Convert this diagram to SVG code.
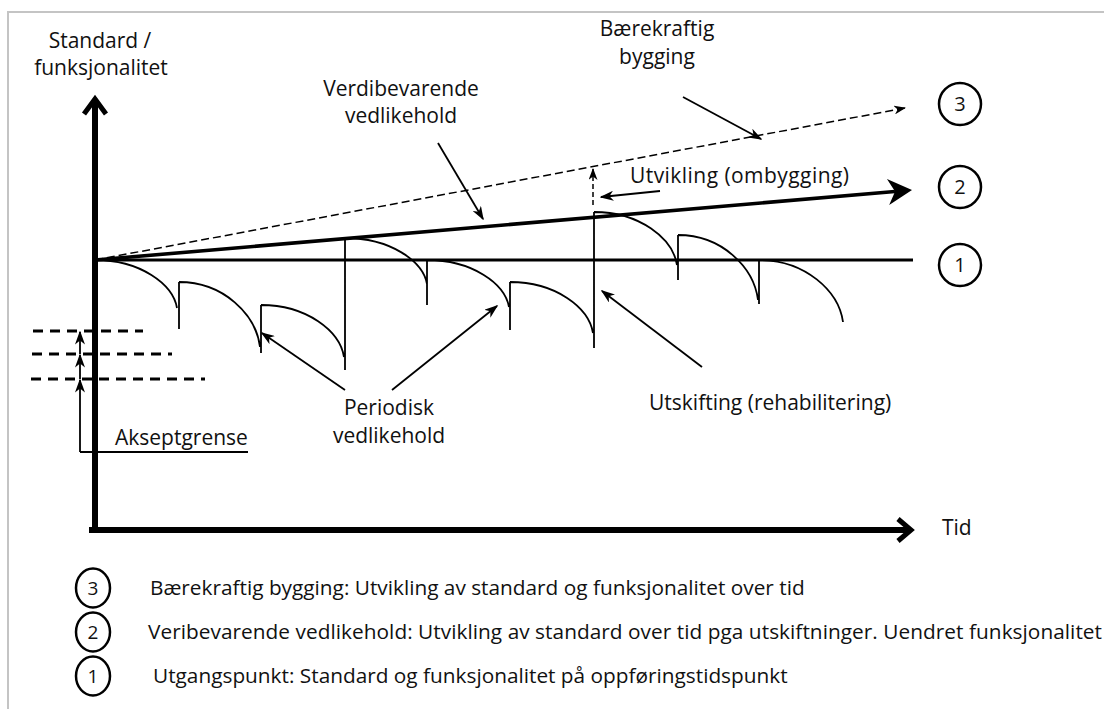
<svg xmlns="http://www.w3.org/2000/svg" width="1104" height="709" viewBox="0 0 1104 709">
<defs>
<style>
text{font-family:"Open Sans","Noto Sans","Liberation Sans",sans-serif;fill:#111;}
.lbl{font-size:21px;}
.mid{text-anchor:middle;}
.leg{font-size:20.8px;}
.num{font-size:20px;text-anchor:middle;}
.numS{font-size:19px;text-anchor:middle;}
.ln{fill:none;stroke:#000;}
.thin{fill:none;stroke:#000;stroke-width:1.8;}
.ptr{fill:none;stroke:#000;stroke-width:1.8;marker-end:url(#stealth);}
.ring{fill:none;stroke:#000;stroke-width:2.5;}
.acc{fill:none;stroke:#000;stroke-width:3;stroke-dasharray:10 7;}
</style>
<marker id="stealth" markerUnits="userSpaceOnUse" viewBox="0 0 14 10" refX="12.5" refY="5" markerWidth="14" markerHeight="10" orient="auto">
<path d="M0,0 L14,5 L0,10 L4,5 z" fill="#000"/>
</marker>
<marker id="stealthS" markerUnits="userSpaceOnUse" viewBox="0 0 12 9" refX="11" refY="4.5" markerWidth="12" markerHeight="9" orient="auto">
<path d="M0,0 L12,4.5 L0,9 L3.5,4.5 z" fill="#000"/>
</marker>
</defs>
<rect width="1104" height="709" fill="#fff"/>
<path d="M8,709 V12 H1104" fill="none" stroke="#c4c4c4" stroke-width="2"/>

<g id="axes">
<path class="ln" d="M95,533 V100" stroke-width="6"/>
<path class="ln" d="M84,114 L95,99 L106,114" stroke-width="5"/>
<path class="ln" d="M89,530 H909" stroke-width="6"/>
<path class="ln" d="M898,519 L911,530 L898,541" stroke-width="5"/>
<text class="lbl mid" x="100" y="48">Standard /</text>
<text class="lbl mid" x="101" y="75">funksjonalitet</text>
<text class="lbl" x="942" y="535">Tid</text>
</g>

<g id="connectors">
<line id="line1" class="ln" x1="95" y1="260" x2="913" y2="260" stroke-width="3"/>
<path id="line2" class="ln" d="M95,260 L895,191.5" stroke-width="3.6"/>
<path d="M0,0 L-24,-13 L-17,0 L-24,13 z" fill="#000" transform="translate(912,190) rotate(-4.9)"/>
<path id="line3" class="ln" d="M95,260 L905,108" stroke-width="1.5" stroke-dasharray="8 4" marker-end="url(#stealthS)"/>
<path class="ln" d="M593,205 V169" stroke-width="1.5" stroke-dasharray="5 3" marker-end="url(#stealthS)"/>
<path id="sawtooth" class="thin" d="M95,260 C140.1,260 172.9,284 177,308 M179,282 V329 M179,282 C223.6,282 256,314.5 260,347 M261,305 V353 M261,305 C306.7,305 339.9,331 344,357 M345,238 V370 M345,238 C390.1,238 422.9,261 427,284 M427,260 V305 M427,260 C472.1,260 504.9,283.5 509,307 M510,282 V330 M510,282 C555.7,282 588.9,307.5 593,333 M594,212 V348 M594,212 C639.7,212 672.9,238.5 677,265 M678,235 V280 M678,235 C722,235 754,267.5 758,300 M759,259 V304 M759,260 C805.2,260 838.8,291 843,322"/>
<path class="ptr" d="M683,97 L761,139"/>
<path class="ptr" d="M438,143 L483,219"/>
<path class="ptr" d="M660,191 L601,197"/>
<path class="ptr" d="M345,390 L262,333"/>
<path class="ptr" d="M392,390 L497,306"/>
<path class="ptr" d="M702,367 L602,291"/>
</g>

<g id="acceptance">
<line class="acc" x1="33" y1="331" x2="143" y2="331"/>
<line class="acc" x1="32" y1="354" x2="172" y2="354"/>
<line class="acc" x1="31" y1="379" x2="205" y2="379"/>
<path class="thin" d="M80,452 H248"/>
<path class="thin" d="M80,452 V380" marker-end="url(#stealth)"/>
<path class="thin" d="M80,379 V355" marker-end="url(#stealth)"/>
<path class="thin" d="M80,354 V332" marker-end="url(#stealth)"/>
<text class="lbl" x="115" y="445">Akseptgrense</text>
</g>

<g id="labels">
<text class="lbl mid" x="401" y="96">Verdibevarende</text>
<text class="lbl mid" x="401" y="123">vedlikehold</text>
<text class="lbl mid" x="657" y="36">Bærekraftig</text>
<text class="lbl mid" x="657" y="64">bygging</text>
<text class="lbl" x="630" y="183" textLength="219">Utvikling (ombygging)</text>
<text class="lbl mid" x="389" y="415">Periodisk</text>
<text class="lbl mid" x="389" y="443">vedlikehold</text>
<text class="lbl" x="649" y="410">Utskifting (rehabilitering)</text>
</g>

<g id="node-3"><circle class="ring" cx="960" cy="104" r="21"/><text class="num" x="960" y="111">3</text></g>
<g id="node-2"><circle class="ring" cx="960" cy="187" r="21"/><text class="num" x="960" y="194">2</text></g>
<g id="node-1"><circle class="ring" cx="960" cy="265" r="21"/><text class="num" x="960" y="272">1</text></g>

<g id="legend">
<g id="legend-3"><ellipse class="ring" cx="93" cy="588" rx="17" ry="19.5"/><text class="numS" x="93" y="595">3</text>
<text class="leg" x="150" y="595">Bærekraftig bygging: Utvikling av standard og funksjonalitet over tid</text></g>
<g id="legend-2"><ellipse class="ring" cx="93" cy="632" rx="17" ry="19.5"/><text class="numS" x="93" y="639">2</text>
<text class="leg" x="148" y="639" textLength="954">Veribevarende vedlikehold: Utvikling av standard over tid pga utskiftninger. Uendret funksjonalitet</text></g>
<g id="legend-1"><ellipse class="ring" cx="93" cy="676" rx="17" ry="19.5"/><text class="numS" x="93" y="683">1</text>
<text class="leg" x="153" y="683">Utgangspunkt: Standard og funksjonalitet på oppføringstidspunkt</text></g>
</g>
</svg>
